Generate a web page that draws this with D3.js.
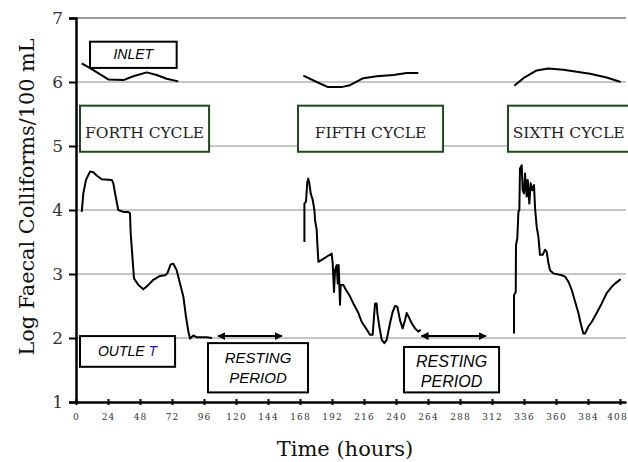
<!DOCTYPE html>
<html><head><meta charset="utf-8">
<script src="https://cdn.jsdelivr.net/npm/d3@7"></script>
<style>body{margin:0;background:#fff}svg{display:block}</style>
</head><body><svg id="c" width="628" height="462"></svg>
<script>
// ---- data (time in hours, log FC /100 mL) ----
const xTicks = [0,24,48,72,96,120,144,168,192,216,240,264,288,312,336,360,384,408];
const yTicks = [1,2,3,4,5,6,7];

const inlet4 = [[4.3,6.29],[11.8,6.20],[24.2,6.04],[35.5,6.03],[43,6.09],[53,6.15],[60.5,6.11],[68,6.05],[76.7,6.01]];
const inlet5 = [[170.5,6.10],[180.5,6.0],[189,5.92],[199,5.92],[205.5,5.95],[215.5,6.06],[225.5,6.09],[238,6.11],[248,6.14],[256.7,6.14]];
const inlet6 = [[328.7,5.94],[335.5,6.06],[345.5,6.18],[354.2,6.21],[365.5,6.19],[375.5,6.16],[385.5,6.13],[398,6.07],[408.5,6.0]];

const outlet4 = [[4.3,3.97],[5.5,4.26],[7.5,4.47],[10.5,4.60],[13,4.59],[15.5,4.54],[19.3,4.48],[26.8,4.47],[28,4.42],[29.3,4.26],[31.7,4.0],[35.5,3.97],[39.3,3.97],[40.5,3.95],[41,3.64],[42.3,3.27],[43.5,2.93],[46.8,2.83],[50.5,2.76],[54.3,2.83],[58,2.91],[63,2.97],[66.8,2.98],[68.5,3.01],[71,3.15],[73,3.16],[75.5,3.06],[78,2.85],[80.5,2.65],[82.5,2.33],[84.3,2.10],[85.5,1.99],[88,2.04],[90.5,2.01],[98,2.01],[102,2.0]];
const outlet5 = [[171.3,3.50],[171.3,4.10],[172.5,4.13],[173.5,4.44],[174.2,4.49],[175,4.42],[176,4.26],[177.5,4.16],[178.8,4.0],[179.3,3.84],[180.5,3.69],[181,3.48],[181.8,3.19],[184.3,3.22],[188,3.27],[191.8,3.32],[192.5,3.17],[193.5,2.72],[194.3,3.06],[195.5,3.14],[196.3,2.85],[197,3.14],[197.5,2.85],[198,2.52],[198.5,2.83],[200.5,2.83],[202.5,2.75],[205,2.67],[208,2.54],[211.8,2.39],[214.3,2.25],[217.5,2.15],[220.5,2.05],[222.5,2.05],[223.5,2.33],[224.3,2.54],[225.5,2.54],[226,2.39],[227.5,2.18],[229.3,1.97],[231.3,1.92],[233,1.97],[235.5,2.23],[237.5,2.41],[239.3,2.50],[241,2.49],[243,2.28],[245,2.15],[246.8,2.28],[248,2.39],[250,2.31],[251.8,2.23],[254.3,2.15],[256.8,2.10],[258.5,2.13]];
const outlet6 = [[328.5,2.07],[328.5,2.67],[329.8,2.72],[330,3.45],[331,3.56],[331.8,3.97],[332.5,4.0],[333,4.65],[334.3,4.70],[335,4.31],[336,4.26],[336.8,4.57],[338,4.21],[338.8,4.47],[340,4.10],[341,4.42],[342.3,4.31],[343.5,4.39],[344.3,4.03],[345.5,3.74],[346.8,3.58],[348,3.30],[350,3.30],[351.8,3.38],[353,3.35],[354.3,3.17],[355.5,3.06],[358,3.01],[364.3,2.98],[366.8,2.96],[369.3,2.88],[371.8,2.75],[374.3,2.57],[376.8,2.39],[378.5,2.23],[380.5,2.07],[381.8,2.07],[384.3,2.18],[386.8,2.25],[390.5,2.39],[394.3,2.54],[398,2.70],[401.8,2.80],[404.3,2.85],[408.5,2.92]];

const cycleLabels = ["FORTH CYCLE","FIFTH CYCLE","SIXTH CYCLE"];
const cycleBoxes = [[3,99.8],[166.5,275.3],[324,415]];       // hours
const restingArrows = [[106.5,154.5],[259,307.5]];           // hours
const restingBoxes = [[99,174],[246,317.3]];                 // hours

// ---- scales ----
const svg = d3.select("#c");
const x = d3.scaleLinear().domain([0,412.5]).range([76,626]);
const y = d3.scaleLinear().domain([1,7]).range([402,18]);
const serif = "'DejaVu Serif', serif";
const sans = "'Liberation Sans', Arial, sans-serif";

// gridlines
svg.append("g").selectAll("line").data(yTicks.filter(d=>d>1)).join("line")
  .attr("x1",x(0)).attr("x2",x(412.5)).attr("y1",d=>y(d)).attr("y2",d=>y(d))
  .attr("stroke",d=>d===7?"#9a9a9a":"#c6c6c6").attr("stroke-width",2);

// axes
const gy = svg.append("g").attr("transform",`translate(${x(0)},0)`)
  .call(d3.axisLeft(y).tickValues(yTicks).tickSize(7).tickFormat(d3.format("d")));
gy.select(".domain").attr("stroke","#000").attr("stroke-width",2.5);
gy.selectAll(".tick line").attr("stroke","#000").attr("stroke-width",2);
gy.selectAll(".tick text").attr("font-family",serif).attr("font-size",17).attr("x",-13).attr("fill","#333");

const gx = svg.append("g").attr("transform",`translate(0,${y(1)})`)
  .call(d3.axisBottom(x).tickValues(xTicks).tickSize(3).tickSizeOuter(0).tickFormat(d3.format("d")));
gx.select(".domain").attr("stroke","#000").attr("stroke-width",2.5);
gx.selectAll(".tick line").attr("stroke","#000").attr("stroke-width",2).attr("y1",-3);
gx.selectAll(".tick text").attr("font-family",serif).attr("font-size",9).attr("letter-spacing",1.1).attr("y",12).attr("fill","#333")
  .attr("dx",d=>d===408?-3:0);

// axis titles
svg.append("text").attr("x",345).attr("y",456).attr("text-anchor","middle")
  .attr("font-family",serif).attr("font-size",21).attr("fill","#111").text("Time (hours)");
svg.append("text").attr("transform",`translate(34,197) rotate(-90)`).attr("text-anchor","middle")
  .attr("font-family",serif).attr("font-size",20.8).attr("fill","#111").text("Log Faecal Colliforms/100 mL");

// lines
const line = d3.line().x(d=>x(d[0])).y(d=>y(d[1]));
[inlet4,inlet5,inlet6,outlet4,outlet5,outlet6].forEach(s=>{
  svg.append("path").attr("d",line(s)).attr("fill","none").attr("stroke","#000")
    .attr("stroke-width",2).attr("stroke-linejoin","round");
});

// cycle boxes
cycleBoxes.forEach((b,i)=>{
  svg.append("rect").attr("x",x(b[0])).attr("y",y(5.63)).attr("width",x(b[1])-x(b[0])).attr("height",y(4.91)-y(5.63))
    .attr("fill","#fff").attr("stroke","#1d4a1d").attr("stroke-width",2);
  svg.append("text").attr("x",(x(b[0])+x(b[1]))/2).attr("y",138).attr("text-anchor","middle")
    .attr("font-family",serif).attr("font-size",15.5).attr("fill","#222").text(cycleLabels[i]);
});

// INLET box
svg.append("rect").attr("x",x(10.5)).attr("y",y(6.63)).attr("width",x(75.5)-x(10.5)).attr("height",y(6.22)-y(6.63))
  .attr("fill","#fff").attr("stroke","#000").attr("stroke-width",2);
svg.append("text").attr("x",(x(10.5)+x(75.5))/2).attr("y",y(6.36)).attr("text-anchor","middle")
  .attr("font-family",sans).attr("font-style","italic").attr("font-size",14).text("INLET");

// OUTLET box
svg.append("rect").attr("x",x(3)).attr("y",y(2.03)).attr("width",x(74.3)-x(3)).attr("height",y(1.55)-y(2.03))
  .attr("fill","#fff").attr("stroke","#000").attr("stroke-width",2);
const ot = svg.append("text").attr("x",(x(3)+x(74.3))/2).attr("y",y(1.72)).attr("text-anchor","middle")
  .attr("font-family",sans).attr("font-style","italic").attr("font-size",14);
ot.append("tspan").text("OUTLE ");
ot.append("tspan").attr("fill","#1a1a9a").text("T");

// resting periods
const defs = svg.append("defs");
defs.append("marker").attr("id","ah").attr("viewBox","0 0 10 10").attr("refX",9).attr("refY",5)
  .attr("markerWidth",4).attr("markerHeight",4).attr("orient","auto-start-reverse")
  .append("path").attr("d","M0,0L10,5L0,10z").attr("fill","#000");
restingArrows.forEach(a=>{
  svg.append("line").attr("x1",x(a[0])).attr("x2",x(a[1])).attr("y1",y(2.03)).attr("y2",y(2.03))
    .attr("stroke","#000").attr("stroke-width",2).attr("marker-start","url(#ah)").attr("marker-end","url(#ah)");
});
const rTops = [1.92,1.86];
restingBoxes.forEach((b,i)=>{
  svg.append("rect").attr("x",x(b[0])).attr("y",y(rTops[i])).attr("width",x(b[1])-x(b[0])).attr("height",y(1.15)-y(rTops[i]))
    .attr("fill","#fff").attr("stroke","#000").attr("stroke-width",2);
  const cx=(x(b[0])+x(b[1]))/2, ty=y(rTops[i])+20;
  svg.append("text").attr("x",cx).attr("y",ty).attr("text-anchor","middle")
    .attr("font-family",sans).attr("font-style","italic").attr("font-size",i===0?15:16).text("RESTING");
  svg.append("text").attr("x",cx).attr("y",ty+20).attr("text-anchor","middle")
    .attr("font-family",sans).attr("font-style","italic").attr("font-size",i===0?15:16).text("PERIOD");
});
</script></body></html>
